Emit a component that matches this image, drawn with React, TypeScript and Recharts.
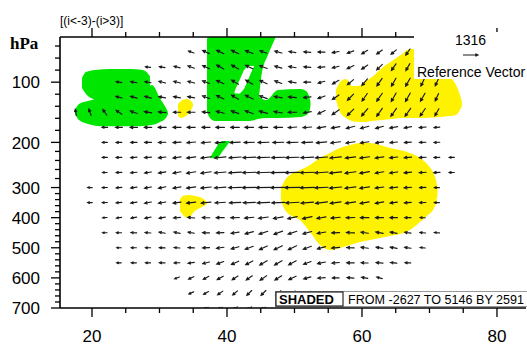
import React from "react";
import { ComposedChart, Area, Scatter, XAxis, YAxis } from "recharts";

// longitude range of the panel and grid columns of the vector field
const LON_MIN = 15.26;
const LON_MAX = 84.3;
const lonGrid = [
    17.6, 19.7, 21.9, 24.0, 26.2, 28.3, 30.4, 32.6, 34.7, 36.9, 39.0, 41.2, 43.3, 45.4,
    47.6, 49.7, 51.9, 54.0, 56.1, 58.3, 60.4, 62.6, 64.7, 66.8, 69.0, 71.1, 73.3,
];
const lonTicks = [20, 25, 30, 35, 40, 45, 50, 55, 60, 65, 70, 75, 80];

// vertical axis works on level index (0 = 700 hPa ... 18 = top)
const levelTicks = [
    0, 0.4, 0.8, 1.2, 1.6, 2, 2.4, 2.8, 3.2, 3.6, 4, 4.4, 4.8, 5.2, 5.6, 6, 6.4, 6.8, 7.2, 7.6,
    8, 8.6, 9.2, 9.8, 10.4, 11, 11.8, 12.6, 13.4, 14.2, 15, 15.8, 16.6, 17.4,
];
const levelLabels: Record<number, string> = {
    0: "700", 2: "600", 4: "500", 6: "400", 8: "300", 11: "200", 15: "100",
};

// vectors: first grid column of each level row, direction (deg, ccw from east), magnitude
const rowFirstCol = [9, 8, 7, 3, 3, 2, 2, 1, 1, 2, 2, 2, 2, 0, 3, 3, 5, 8];
const vectorDir = [
    [195, 200, 205, 205, 200],
    [205, 210, 215, 220, 225, 225, 220, 215, 210, 200, 190, 180, 175],
    [200, 205, 210, 210, 212, 215, 215, 212, 205, 195, 185, 180, 175, 170, 165],
    [180, 180, 180, 180, 182, 188, 195, 200, 205, 208, 210, 210, 208, 200, 192, 185, 180, 178, 175, 175, 178],
    [180, 180, 180, 178, 176, 178, 182, 188, 195, 200, 205, 205, 205, 200, 195, 185, 178, 172, 170, 170, 172, 175],
    [180, 180, 178, 175, 170, 168, 170, 178, 182, 188, 195, 198, 200, 198, 195, 190, 182, 178, 172, 170, 170, 172, 175, 178],
    [185, 188, 190, 192, 190, 185, 175, 178, 180, 182, 185, 188, 190, 192, 192, 190, 185, 182, 180, 180, 180, 180, 178],
    [180, 182, 185, 188, 190, 190, 188, 186, 185, 184, 183, 182, 182, 182, 183, 185, 187, 188, 189, 190, 190, 188, 185, 182, 180],
    [180, 182, 185, 188, 190, 192, 190, 188, 186, 184, 182, 181, 181, 181, 181, 182, 183, 185, 187, 188, 188, 186, 184, 182, 180],
    [180, 182, 185, 188, 190, 190, 190, 188, 185, 183, 182, 182, 181, 181, 182, 184, 186, 188, 190, 190, 188, 186, 184, 182, 180],
    [180, 182, 185, 185, 187, 188, 188, 188, 186, 184, 183, 182, 182, 182, 183, 184, 186, 187, 188, 188, 186, 185, 183, 182, 180],
    [180, 180, 180, 180, 182, 183, 185, 185, 185, 183, 182, 182, 182, 182, 183, 185, 187, 188, 188, 188, 186, 185, 183, 182],
    [180, 180, 180, 180, 180, 180, 180, 180, 180, 180, 180, 180, 180, 185, 185, 190, 190, 195, 195, 195, 190, 190, 185, 185],
    [100, 110, 125, 145, 160, 170, 175, 180, 180, 175, 165, 160, 160, 165, 170, 180, 190, 205, 215, 225, 230, 235, 235, 235, 235, 240],
    [165, 165, 165, 170, 170, 170, 160, 155, 150, 155, 160, 170, 175, 185, 200, 215, 225, 235, 235, 240, 240, 240, 245],
    [170, 170, 170, 165, 165, 165, 160, 155, 150, 150, 155, 160, 170, 180, 195, 210, 220, 230, 235, 240, 240, 245, 245],
    [175, 170, 165, 160, 155, 150, 150, 155, 160, 165, 170, 175, 185, 195, 205, 215, 225, 235, 240],
    [160, 155, 155, 155, 160, 160, 165, 170, 175, 180, 190, 200, 210, 215, 220, 235],
];
const vectorSpeed = [
    [400, 400, 450, 450, 400],
    [450, 500, 550, 550, 600, 600, 600, 600, 600, 550, 550, 500, 500],
    [450, 500, 550, 600, 600, 650, 700, 700, 700, 650, 650, 600, 600, 550, 500],
    [400, 450, 450, 500, 500, 550, 600, 650, 700, 700, 750, 750, 750, 700, 700, 650, 650, 600, 600, 550, 500],
    [400, 450, 450, 500, 500, 550, 600, 650, 700, 750, 750, 800, 800, 750, 750, 700, 650, 650, 600, 600, 550, 450],
    [400, 450, 500, 500, 550, 550, 550, 600, 650, 700, 750, 800, 800, 800, 800, 750, 700, 700, 650, 650, 600, 550, 500, 450],
    [400, 450, 500, 550, 550, 600, 600, 650, 700, 750, 800, 850, 850, 850, 850, 800, 800, 750, 750, 700, 650, 550, 450],
    [400, 450, 500, 550, 600, 650, 700, 800, 850, 900, 1000, 1050, 1100, 1150, 1150, 1100, 1050, 950, 900, 800, 750, 650, 600, 550, 450],
    [400, 450, 500, 550, 600, 650, 700, 800, 900, 1000, 1100, 1200, 1250, 1300, 1300, 1250, 1150, 1050, 950, 850, 750, 700, 650, 550, 450],
    [400, 500, 550, 600, 650, 700, 800, 900, 1000, 1100, 1150, 1200, 1250, 1250, 1200, 1150, 1050, 950, 850, 750, 700, 650, 600, 550, 450],
    [450, 500, 550, 600, 650, 700, 800, 900, 1000, 1050, 1100, 1100, 1150, 1150, 1100, 1050, 1000, 900, 850, 750, 700, 650, 600, 500, 450],
    [450, 500, 550, 600, 650, 700, 750, 800, 850, 900, 900, 950, 950, 950, 950, 900, 850, 800, 750, 700, 650, 600, 550, 500],
    [500, 600, 650, 650, 700, 700, 700, 700, 750, 750, 750, 750, 750, 750, 750, 750, 750, 750, 750, 700, 700, 650, 600, 500],
    [550, 600, 600, 600, 650, 650, 650, 650, 650, 650, 700, 700, 750, 750, 750, 750, 700, 700, 750, 800, 850, 850, 850, 850, 800, 700],
    [550, 600, 600, 600, 600, 600, 650, 700, 700, 750, 700, 700, 700, 650, 650, 700, 750, 800, 850, 850, 850, 800, 700],
    [500, 550, 550, 600, 600, 600, 650, 700, 700, 700, 700, 650, 650, 600, 600, 650, 700, 750, 800, 800, 800, 750, 700],
    [450, 500, 550, 600, 650, 700, 700, 700, 700, 650, 650, 600, 600, 600, 650, 650, 700, 700, 700],
    [500, 650, 700, 700, 700, 650, 650, 600, 600, 600, 600, 600, 600, 600, 600, 650],
];
const REF_MAG = 1316;

// shaded regions as [lon, lower level, upper level]
const greenWestUpper = [
    [18.52, 14.61, 15.27], [19.11, 14.21, 15.67], [20.44, 13.81, 15.8], [22.67, 13.28, 15.87],
    [25.63, 13.15, 15.87], [27.56, 13.15, 15.8], [28.59, 13.28, 15.4],
];
const greenWestLower = [
    [17.48, 12.88, 13.15], [18.07, 12.48, 13.55], [19.41, 12.22, 13.75], [21.19, 12.08, 13.94],
    [24.15, 12.08, 14.14], [27.11, 12.08, 14.14], [28.89, 12.15, 14.81], [30.07, 12.35, 13.94],
    [30.96, 12.62, 13.28], [31.26, 12.88, 13.01],
];
const greenTopUpper = [
    [37.04, 13.81, 17.9], [37.48, 13.81, 18], [44.59, 13.81, 18], [45.19, 15.67, 18],
    [46.07, 16.8, 18], [47.19, 17.97, 18],
];
const greenTopLower = [
    [37.04, 13.01, 14.48], [37.48, 12.62, 14.74], [38.22, 12.42, 14.74], [43.41, 12.42, 14.61],
    [44.59, 12.55, 14.08], [45.78, 12.62, 13.81], [47.56, 12.62, 14.48], [50.81, 12.68, 14.54],
    [51.7, 12.82, 14.41], [52.15, 13.01, 14.08], [52.37, 13.41, 13.68],
];
const greenTopHole = [
    [41.11, 14.28, 14.34], [41.33, 14.24, 14.61], [41.93, 14.24, 15.21], [42.52, 14.54, 15.8],
    [43.11, 15.14, 16.07], [43.7, 15.76, 16.07], [44.0, 16.04, 16.07],
];
const greenStreak = [
    [37.48, 9.96, 9.98], [38.07, 9.96, 10.42], [38.67, 9.96, 10.86], [39.26, 10.36, 11.09],
    [39.85, 10.71, 11.09], [40.44, 11.07, 11.09],
];
const yellowDot = [
    [32.74, 12.75, 13.55], [33.19, 12.62, 13.75], [33.93, 12.75, 13.88], [34.67, 13.15, 13.75],
    [34.96, 13.41, 13.55],
];
const yellowSmall = [
    [33.04, 6.44, 7.24], [33.48, 6.18, 7.44], [34.22, 5.98, 7.5], [35.26, 6.44, 7.44],
    [36.3, 6.71, 7.3], [37.04, 6.91, 7.04],
];
const yellowEast = [
    [56.15, 13.81, 14.48], [56.74, 13.01, 15.0], [57.63, 12.62, 15.21], [58.52, 12.42, 14.74],
    [59.41, 12.35, 14.74], [60.3, 12.35, 15.0], [61.48, 12.42, 15.34], [62.96, 12.48, 15.94],
    [64.44, 12.55, 16.4], [65.93, 12.62, 16.87], [67.11, 12.62, 17.2], [68.0, 12.62, 17.2],
    [69.33, 12.62, 16.47], [71.56, 12.68, 15.4], [73.04, 12.75, 15.27], [73.93, 12.82, 14.81],
    [74.52, 13.15, 14.14], [74.81, 13.41, 13.68],
];
const yellowCentral = [
    [48.0, 7.17, 7.97], [48.59, 6.51, 8.5], [49.33, 6.18, 8.83], [50.81, 5.84, 9.16],
    [52.3, 5.05, 9.5], [53.78, 4.18, 9.96], [55.26, 3.85, 10.29], [56.74, 3.98, 10.62],
    [58.22, 4.18, 10.82], [59.7, 4.38, 10.96], [61.19, 4.52, 10.96], [62.67, 4.65, 10.82],
    [64.15, 4.78, 10.62], [65.63, 4.91, 10.49], [67.11, 5.18, 10.29], [68.59, 5.71, 9.96],
    [69.78, 6.18, 9.5], [70.52, 6.51, 9.03], [70.96, 6.97, 8.5], [71.19, 7.5, 7.97],
];

const GREEN = "#00e600";
const YELLOW = "#fff200";
const FONT = "'Liberation Sans', Arial, Helvetica, sans-serif";
const REF_LEN = 15; // px drawn for REF_MAG

const toRange = (pts: number[][]) => pts.map(([x, lo, hi]) => ({ x, r: [lo, hi] }));

const vectors: { x: number; y: number; dir: number; spd: number }[] = [];
vectorDir.forEach((dirs, lev) => {
    dirs.forEach((dir, i) => {
        vectors.push({
            x: lonGrid[rowFirstCol[lev] + i],
            y: lev,
            dir,
            spd: vectorSpeed[lev][i],
        });
    });
});

// arrow centred on (cx, cy), pointing along dir
const arrowPath = (cx: number, cy: number, dir: number, len: number) => {
    const a = (dir * Math.PI) / 180;
    const dx = Math.cos(a) * len;
    const dy = -Math.sin(a) * len;
    const x1 = cx - dx / 2;
    const y1 = cy - dy / 2;
    const x2 = cx + dx / 2;
    const y2 = cy + dy / 2;
    const h = Math.min(3, len * 0.4);
    const back = Math.atan2(-dy, -dx);
    const w = 0.45;
    const hx1 = x2 + Math.cos(back + w) * h;
    const hy1 = y2 + Math.sin(back + w) * h;
    const hx2 = x2 + Math.cos(back - w) * h;
    const hy2 = y2 + Math.sin(back - w) * h;
    return `M${x1},${y1}L${x2},${y2}M${hx1},${hy1}L${x2},${y2}L${hx2},${hy2}`;
};

const VectorShape = (props: any) => {
    const { cx, cy, payload } = props;
    if (cx == null || cy == null) return <g />;
    const len = (payload.spd / REF_MAG) * REF_LEN;
    return (
        <path
            d={arrowPath(cx, cy, payload.dir, len)}
            stroke="#1a1a1a"
            strokeWidth={1.15}
            fill="none"
            strokeLinecap="round"
        />
    );
};

const LeftTick = (props: any) => {
    const { x, y, payload } = props;
    const label = levelLabels[payload.value];
    const major = label !== undefined;
    return (
        <g>
            <line x1={x - (major ? 9 : 5)} x2={x} y1={y} y2={y} stroke="#000" strokeWidth={1.3} />
            {major && (
                <text x={x - 20} y={y} dy="0.36em" textAnchor="end" fontSize={17} fontFamily={FONT} fill="#000">
                    {label}
                </text>
            )}
        </g>
    );
};

const BottomTick = (props: any) => {
    const { x, y, payload } = props;
    const major = payload.value % 20 === 0;
    return (
        <g>
            <line x1={x} x2={x} y1={y} y2={y + (major ? 9 : 5)} stroke="#000" strokeWidth={1.3} />
            {major && (
                <text x={x} y={y + 34} textAnchor="middle" fontSize={17} fontFamily={FONT} fill="#000">
                    {payload.value}
                </text>
            )}
        </g>
    );
};

const TopTick = (props: any) => {
    const { x, y, payload } = props;
    const major = payload.value % 20 === 0;
    return <line x1={x} x2={x} y1={y} y2={y - (major ? 9 : 5)} stroke="#000" strokeWidth={1.3} />;
};

const shade = (pts: number[][], fill: string, key: string, linear = false) => (
    <Area
        key={key}
        data={toRange(pts)}
        dataKey="r"
        type={linear ? "linear" : "monotone"}
        stroke="none"
        fill={fill}
        fillOpacity={1}
        dot={false}
        activeDot={false}
        isAnimationActive={false}
    />
);

export default function App() {
    const axisLine = { stroke: "#000", strokeWidth: 1.6 };
    return (
        <div style={{ position: "absolute", left: 0, top: 0, width: 527, height: 346, background: "#fff" }}>
            <ComposedChart width={527} height={346} margin={{ top: 17, right: 1, bottom: 0, left: 0 }}>
                {shade(greenWestUpper, GREEN, "gwu")}
                {shade(greenWestLower, GREEN, "gwl")}
                {shade(greenTopUpper, GREEN, "gtu")}
                {shade(greenTopLower, GREEN, "gtl")}
                {shade(greenTopHole, "#ffffff", "hole", true)}
                {shade(greenStreak, GREEN, "gs", true)}
                {shade(yellowDot, YELLOW, "yd")}
                {shade(yellowSmall, YELLOW, "ys")}
                {shade(yellowEast, YELLOW, "ye")}
                {shade(yellowCentral, YELLOW, "yc")}
                <Scatter data={vectors} dataKey="y" shape={VectorShape} isAnimationActive={false} />
                <XAxis
                    type="number"
                    dataKey="x"
                    domain={[LON_MIN, LON_MAX]}
                    allowDataOverflow
                    ticks={lonTicks}
                    interval={0}
                    height={38}
                    tickSize={0}
                    tickMargin={0}
                    tickLine={false}
                    tick={BottomTick}
                    axisLine={axisLine}
                />
                <XAxis
                    xAxisId="top"
                    orientation="top"
                    type="number"
                    dataKey="x"
                    domain={[LON_MIN, LON_MAX]}
                    allowDataOverflow
                    ticks={lonTicks}
                    interval={0}
                    height={20}
                    tickSize={0}
                    tickMargin={0}
                    tickLine={false}
                    tick={TopTick}
                    axisLine={axisLine}
                />
                <YAxis
                    type="number"
                    dataKey="y"
                    domain={[0, 18]}
                    allowDataOverflow
                    ticks={levelTicks}
                    interval={0}
                    width={60}
                    tickSize={0}
                    tickMargin={0}
                    tickLine={false}
                    tick={LeftTick}
                    axisLine={axisLine}
                />
                <YAxis
                    yAxisId="r"
                    orientation="right"
                    type="number"
                    domain={[0, 18]}
                    width={0}
                    tick={false}
                    tickLine={false}
                    axisLine={axisLine}
                />
            </ComposedChart>
            <svg width={527} height={346} style={{ position: "absolute", left: 0, top: 0, pointerEvents: "none" }}>
                <text x={60} y={25} fontSize={12} fontFamily={FONT} fill="#000">
                    [(i&lt;-3)-(i&gt;3)]
                </text>
                <text x={10} y={49} fontSize={17} fontWeight="bold" fontFamily="'Liberation Serif', 'Times New Roman', serif" fill="#000">
                    hPa
                </text>
                <rect x={414} y={32} width={113} height={47} fill="#fff" />
                <text x={455} y={45} fontSize={14} fontFamily={FONT} fill="#000">
                    1316
                </text>
                <path d={arrowPath(470.5, 55, 0, REF_LEN)} stroke="#1a1a1a" strokeWidth={1.2} fill="none" />
                <text x={417} y={77} fontSize={14} fontFamily={FONT} fill="#000">
                    Reference Vector
                </text>
                <rect x={275.5} y={291.5} width={252} height={15} fill="#fff" stroke="#999" strokeWidth={1} />
                <rect x={276} y={292} width={67} height={14} fill="#fff" stroke="#000" strokeWidth={1} />
                <text x={279} y={304} fontSize={13} fontWeight="bold" fontFamily={FONT} fill="#000">
                    SHADED
                </text>
                <text x={348} y={304} fontSize={12.5} fontFamily={FONT} fill="#000" textLength={176} lengthAdjust="spacingAndGlyphs">
                    FROM -2627 TO 5146 BY 2591
                </text>
            </svg>
        </div>
    );
}
